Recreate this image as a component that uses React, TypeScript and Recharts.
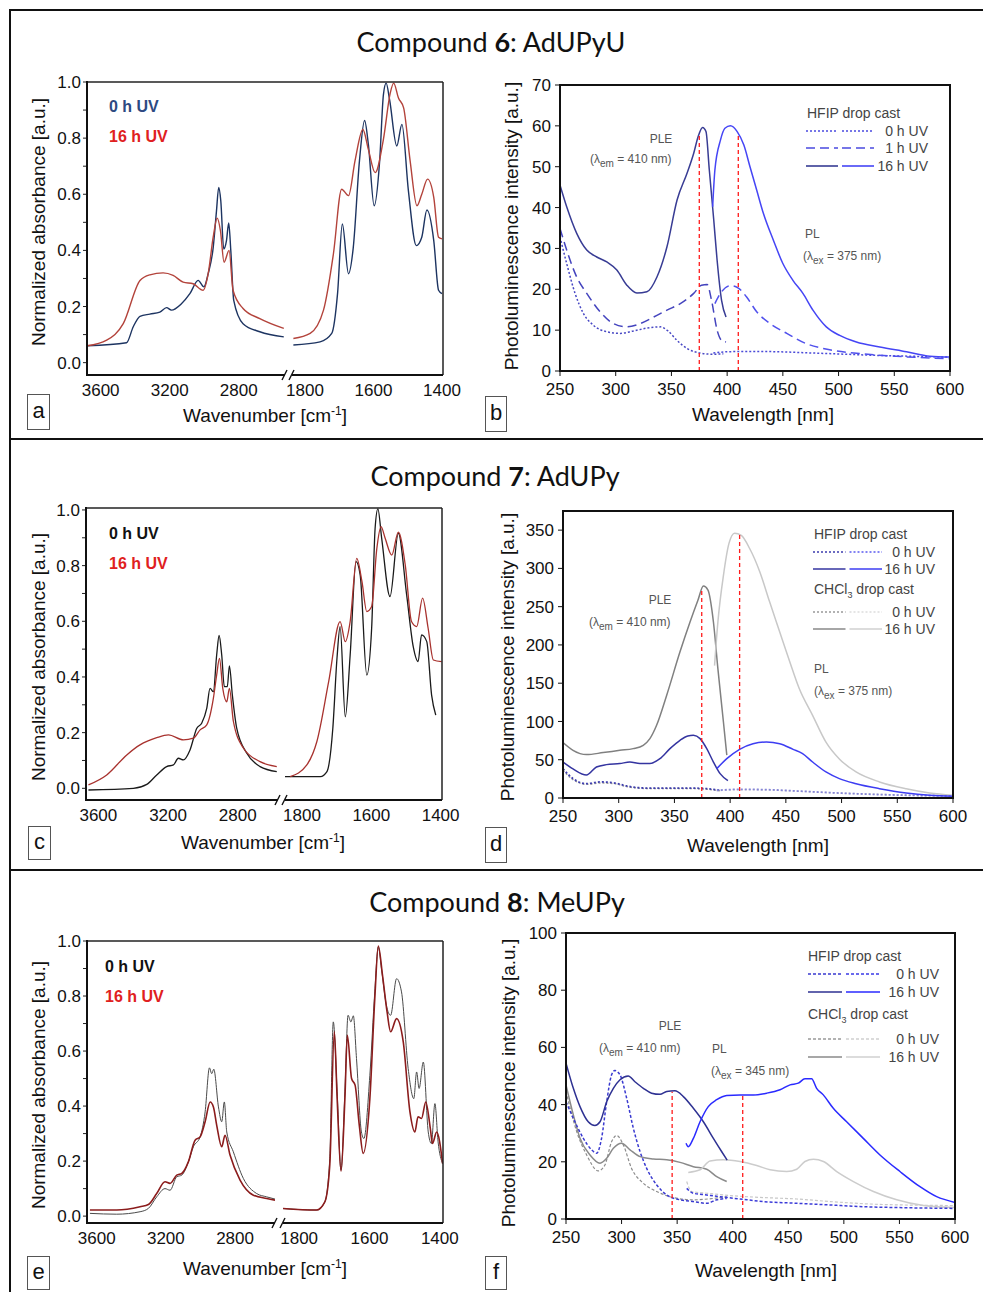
import React from 'react'
import { LineChart, Line, XAxis, YAxis, ReferenceLine } from 'recharts'

type Pt = [number, number]

/* ------------------------------------------------------------------ */
/*  Data: IR spectra (wavenumber, normalized absorbance)               */
/* ------------------------------------------------------------------ */

// compound 6 (panel a)
const A_0H_CH: Pt[] = [[3677, 0.06], [3450, 0.071], [3411, 0.128], [3372, 0.165], [3315, 0.173], [3257, 0.18], [3218, 0.196], [3190, 0.187], [3132, 0.21], [3083, 0.246], [3035, 0.293], [3002, 0.27], [2977, 0.317], [2948, 0.41], [2929, 0.54], [2916, 0.624], [2904, 0.577], [2887, 0.405], [2871, 0.435], [2858, 0.498], [2846, 0.4], [2829, 0.222], [2775, 0.139], [2678, 0.11], [2539, 0.092]]
const A_16H_CH: Pt[] = [[3677, 0.06], [3565, 0.08], [3469, 0.139], [3372, 0.293], [3315, 0.313], [3238, 0.32], [3180, 0.311], [3122, 0.287], [3064, 0.281], [3006, 0.258], [2977, 0.317], [2948, 0.447], [2925, 0.515], [2906, 0.47], [2885, 0.358], [2856, 0.4], [2833, 0.258], [2775, 0.193], [2678, 0.157], [2539, 0.122]]
const A_0H_FP: Pt[] = [[1834, 0.063], [1756, 0.074], [1722, 0.104], [1705, 0.246], [1691, 0.494], [1673, 0.317], [1659, 0.411], [1641, 0.719], [1626, 0.863], [1615, 0.778], [1598, 0.559], [1582, 0.719], [1571, 0.955], [1563, 0.996], [1553, 0.937], [1532, 0.772], [1517, 0.849], [1498, 0.612], [1475, 0.417], [1459, 0.447], [1444, 0.544], [1424, 0.435], [1410, 0.258], [1400, 0.246]]
const A_16H_FP: Pt[] = [[1834, 0.086], [1785, 0.104], [1746, 0.187], [1717, 0.388], [1693, 0.618], [1673, 0.595], [1654, 0.719], [1631, 0.831], [1615, 0.76], [1595, 0.677], [1571, 0.796], [1551, 0.961], [1541, 0.996], [1527, 0.943], [1512, 0.908], [1493, 0.719], [1473, 0.559], [1459, 0.6], [1442, 0.654], [1424, 0.589], [1410, 0.447], [1400, 0.441]]

// compound 7 (panel c)
const C_0H_CH: Pt[] = [[3657, -0.006], [3399, 0], [3322, 0.014], [3265, 0.048], [3208, 0.078], [3169, 0.084], [3141, 0.108], [3112, 0.102], [3074, 0.138], [3035, 0.216], [3007, 0.234], [2978, 0.287], [2959, 0.359], [2940, 0.347], [2921, 0.479], [2907, 0.549], [2892, 0.479], [2877, 0.365], [2860, 0.365], [2848, 0.44], [2831, 0.335], [2806, 0.216], [2748, 0.126], [2672, 0.078], [2576, 0.06]]
const C_16H_CH: Pt[] = [[3657, 0.012], [3552, 0.048], [3437, 0.12], [3361, 0.156], [3265, 0.182], [3198, 0.192], [3112, 0.174], [3055, 0.18], [3016, 0.21], [2978, 0.228], [2940, 0.323], [2921, 0.407], [2905, 0.467], [2886, 0.359], [2863, 0.311], [2848, 0.359], [2825, 0.24], [2767, 0.144], [2672, 0.096], [2576, 0.078]]
const C_0H_FP: Pt[] = [[1851, 0.042], [1747, 0.042], [1728, 0.06], [1711, 0.216], [1699, 0.467], [1690, 0.581], [1675, 0.257], [1661, 0.479], [1644, 0.814], [1632, 0.766], [1613, 0.407], [1599, 0.575], [1589, 0.934], [1581, 1.004], [1570, 0.898], [1546, 0.689], [1522, 0.916], [1498, 0.695], [1479, 0.509], [1465, 0.455], [1455, 0.551], [1440, 0.527], [1426, 0.335], [1414, 0.263]]
const C_16H_FP: Pt[] = [[1834, 0.042], [1786, 0.084], [1757, 0.168], [1723, 0.383], [1690, 0.599], [1675, 0.527], [1661, 0.599], [1642, 0.826], [1627, 0.743], [1613, 0.635], [1599, 0.653], [1584, 0.862], [1572, 0.94], [1560, 0.898], [1541, 0.838], [1522, 0.92], [1502, 0.802], [1484, 0.599], [1469, 0.581], [1452, 0.683], [1436, 0.575], [1421, 0.461], [1397, 0.455]]

// compound 8 (panel e)
const E_0H_CH: Pt[] = [[3639, 0.01], [3484, 0.007], [3349, 0.016], [3301, 0.028], [3253, 0.07], [3205, 0.1], [3176, 0.094], [3137, 0.143], [3108, 0.149], [3070, 0.197], [3041, 0.252], [3002, 0.288], [2973, 0.379], [2948, 0.539], [2935, 0.518], [2923, 0.534], [2896, 0.397], [2877, 0.343], [2862, 0.415], [2848, 0.306], [2810, 0.234], [2752, 0.137], [2675, 0.082], [2617, 0.07], [2569, 0.062]]
const E_16H_CH: Pt[] = [[3639, 0.022], [3484, 0.022], [3349, 0.034], [3301, 0.042], [3253, 0.082], [3205, 0.125], [3176, 0.119], [3137, 0.149], [3108, 0.155], [3070, 0.197], [3031, 0.276], [3002, 0.288], [2973, 0.343], [2944, 0.415], [2925, 0.397], [2906, 0.33], [2877, 0.252], [2858, 0.294], [2829, 0.222], [2771, 0.131], [2694, 0.076], [2617, 0.064], [2569, 0.058]]
const E_0H_FP: Pt[] = [[1850, 0.028], [1751, 0.022], [1727, 0.052], [1713, 0.209], [1703, 0.706], [1692, 0.452], [1681, 0.167], [1670, 0.452], [1661, 0.73], [1653, 0.706], [1646, 0.728], [1637, 0.573], [1623, 0.306], [1616, 0.282], [1599, 0.512], [1585, 0.815], [1575, 0.978], [1566, 0.9], [1552, 0.766], [1540, 0.73], [1523, 0.863], [1509, 0.815], [1490, 0.536], [1474, 0.427], [1466, 0.524], [1459, 0.464], [1447, 0.56], [1433, 0.306], [1424, 0.264], [1414, 0.409], [1405, 0.27], [1392, 0.191]]
const E_16H_FP: Pt[] = [[1850, 0.028], [1751, 0.022], [1727, 0.052], [1713, 0.185], [1700, 0.67], [1692, 0.427], [1681, 0.163], [1670, 0.427], [1663, 0.657], [1651, 0.5], [1641, 0.476], [1629, 0.33], [1618, 0.228], [1599, 0.427], [1585, 0.79], [1575, 0.982], [1563, 0.875], [1550, 0.742], [1540, 0.67], [1523, 0.718], [1504, 0.633], [1485, 0.379], [1471, 0.306], [1462, 0.361], [1452, 0.355], [1440, 0.415], [1427, 0.318], [1421, 0.264], [1409, 0.306], [1392, 0.191]]

/* ------------------------------------------------------------------ */
/*  Data: PL / PLE spectra (wavelength nm, intensity a.u.)             */
/* ------------------------------------------------------------------ */

// panel b
const B_0H_PLE: Pt[] = [[250, 32.8], [256, 26.3], [263.5, 19], [271, 14.1], [280, 11.2], [292, 9.6], [304, 9.2], [316, 9.8], [328, 10.5], [340, 10.8], [347, 9.8], [355, 7.5], [364, 5.5], [375.6, 4.4], [387.6, 4.1], [396.6, 4.2]]
const B_0H_PL: Pt[] = [[387.6, 4.4], [399.5, 4.7], [417.5, 4.8], [447, 4.7], [477, 4.4], [507, 4.1], [537, 3.8], [567, 3.6], [600, 3.4]]
const B_1H_PLE: Pt[] = [[250, 34.9], [256, 29.6], [265, 23], [274, 19], [286, 14.5], [298, 11.6], [310, 10.8], [322, 11.6], [334, 13.2], [346, 14.9], [358, 16.5], [370, 19], [377, 21], [382, 21.2], [386, 17.3], [391, 10], [395, 7.5], [399, 7.1]]
const B_1H_PL: Pt[] = [[389, 16.5], [395, 19.4], [403, 20.9], [410, 20.3], [417.5, 18.1], [426.5, 14.5], [438.5, 11.6], [453.5, 9.2], [471, 6.7], [492, 5.2], [522, 4.2], [552, 3.6], [600, 3.0]]
const B_16H_PLE: Pt[] = [[250, 45.5], [256, 40.2], [265, 33.7], [274, 29.6], [283, 27.9], [292, 26.7], [301, 24.7], [310, 21], [319, 19.1], [328, 19.4], [337, 23], [346, 30.4], [355, 41.8], [364, 48.4], [370, 53.3], [374, 57.4], [378, 59.6], [381, 58.6], [384, 49.2], [388, 36.9], [391, 27.1], [395, 17.3], [399, 13.2]]
const B_16H_PL: Pt[] = [[387, 40.2], [389, 49.2], [394, 56.5], [398, 59.4], [403, 60], [409, 58.6], [415, 55.3], [420.5, 50], [426.5, 44.3], [432.5, 38.6], [441.5, 32], [450, 26.3], [459, 22.2], [468, 19], [477, 14.9], [489, 10.8], [501, 8.7], [516, 7.1], [537, 5.9], [561, 4.7], [582, 3.6], [600, 3.4]]

// panel d
const D_HF0_PLE: Pt[] = [[250, 38], [259, 25.3], [271, 18.7], [283, 21], [295, 20], [307, 15.7], [325, 13], [343, 13], [361, 13], [379, 12.2], [391, 10]]
const D_HF0_PL: Pt[] = [[388, 10], [408.5, 11.3], [432.5, 10.9], [459, 9.2], [489, 7], [519, 5.2], [549, 3.9], [600, 2.6]]
const D_HF16_PLE: Pt[] = [[250, 47], [259, 38], [271, 30], [280, 40.5], [289, 43.6], [301, 45], [310, 47], [319, 45], [328, 45], [337, 51.4], [346, 64.5], [355, 75.4], [362, 81], [367, 82], [373, 77.6], [379, 64.5], [385, 47], [391, 31.8], [398, 22.7]]
const D_HF16_PL: Pt[] = [[388, 38.4], [397, 51.4], [408.5, 63.6], [420.5, 71], [432.5, 73.2], [444.5, 71], [456.5, 63.6], [465, 58], [474, 47], [486, 34], [498, 25.3], [513, 18.7], [534, 12.2], [558, 6.5], [579, 3.5], [600, 2.2]]
const D_CH0_PLE: Pt[] = [[250, 36], [259, 24], [271, 18], [283, 19.5], [295, 19], [307, 15], [325, 12.5], [343, 12.5], [361, 12.5], [379, 11.5], [391, 9.5]]
const D_CH0_PL: Pt[] = [[388, 9.5], [408.5, 10.8], [432.5, 10.5], [459, 9], [489, 7], [519, 5.5], [549, 4], [600, 3]]
const D_CH16_PLE: Pt[] = [[250, 72.4], [259, 62.3], [271, 56.7], [286, 59.3], [301, 62.3], [313, 64.5], [322, 68.9], [328, 77.6], [334, 95], [343, 134], [355, 191], [364, 230], [371, 258], [376, 277], [380, 272], [385, 230], [389, 169], [394, 99], [397, 56]]
const D_CH16_PL: Pt[] = [[386, 173], [389, 230], [394, 291], [399, 333], [404, 346], [410, 343], [417.5, 326], [426.5, 296], [435.5, 256], [444.5, 217], [453.5, 178], [462, 143], [474, 108], [486, 73], [498, 51], [513, 34], [534, 21], [558, 12], [579, 6.5], [600, 3.5]]

// panel f
const F_HF0_PLE: Pt[] = [[250, 41], [256.6, 35.2], [265.6, 28.2], [273, 24.2], [277.6, 23], [282, 28.2], [286.6, 41], [291, 50.4], [294, 51.9], [298.6, 50.4], [304.6, 42.2], [310.6, 31.7], [316.6, 23.6], [322.6, 17.7], [331.6, 11.9], [340.6, 8.4], [352.6, 6.7], [364.6, 6.1], [376.6, 5.5], [385.6, 6.7], [394.6, 7.2]]
const F_HF0_PL: Pt[] = [[358.6, 10.7], [364.6, 9], [376.6, 8.4], [388.6, 7.8], [406.6, 7], [427.6, 6.1], [457.6, 5.5], [487.6, 4.9], [517.6, 4.3], [547.6, 4], [600, 3.7]]
const F_HF16_PLE: Pt[] = [[250, 54.5], [256.6, 45.7], [262.6, 39.3], [270, 34], [276, 32.7], [280.6, 34], [286.6, 41], [292.6, 45.7], [298.6, 48.7], [306, 50], [312, 48], [319.6, 45.7], [327, 44], [334.6, 43.6], [340.6, 44.6], [348, 44.8], [355.6, 42.8], [364.6, 38.7], [373.6, 34], [382.6, 28.2], [390, 23.6], [395, 20.6]]
const F_HF16_PL: Pt[] = [[358, 26.5], [360, 25.3], [364.6, 28.2], [370.6, 34], [378, 39.3], [385.6, 41.7], [394.6, 43.2], [406.6, 43.4], [418.6, 43.4], [430.6, 44], [442.6, 45.2], [451.6, 46.9], [459, 47.5], [465, 49], [471, 49], [475.5, 45.7], [481.5, 43.4], [490.5, 38.7], [502.5, 34], [517.5, 28.2], [532.5, 22.4], [550.5, 16.6], [568.5, 11.3], [583.5, 7.8], [600, 5.8]]
const F_CH0_PLE: Pt[] = [[250, 44.6], [259.6, 30.6], [268.6, 22.4], [279, 16.8], [285, 18.9], [291, 27], [295.6, 29.2], [301.6, 25.9], [309, 17.7], [319.6, 12.5], [331.6, 9.6], [346.6, 7.5], [364.6, 6.7], [382.6, 7.2], [394.6, 7.8]]
const F_CH0_PL: Pt[] = [[358.6, 13.1], [363, 9.6], [376.6, 9], [397.6, 8.2], [427.6, 7.5], [457.6, 7], [487.6, 6.1], [532.6, 5.1], [600, 4.7]]
const F_CH16_PLE: Pt[] = [[250, 46.9], [256.6, 36.4], [262.6, 28.2], [271.6, 22.4], [280.6, 19.5], [286.6, 21.2], [292.6, 24.7], [300, 26.5], [307.6, 24.2], [316.6, 21.8], [328.6, 21], [340.6, 20.7], [352.6, 19.8], [364.6, 18.3], [376.6, 17.4], [385.6, 14.8], [394.6, 13.1]]
const F_CH16_PL: Pt[] = [[360, 16.3], [370.6, 17.2], [379.6, 20.3], [391.6, 20.7], [406.6, 20.1], [421.6, 18.7], [433.6, 17.2], [448.6, 16.6], [457.6, 17.4], [465, 20.1], [472.6, 20.9], [481.6, 20.1], [493.6, 16.6], [508.6, 13.1], [526.6, 9.6], [547.6, 6.7], [571.6, 4.7], [600, 4]]

// excitation / emission wavelengths marked with red lines: [x, top]
const B_MARKS: Pt[] = [[375, 58], [410, 58]]
const D_MARKS: Pt[] = [[374.5, 273], [408.5, 344]]
const F_MARKS: Pt[] = [[345.5, 44.5], [409, 44]]

/* ------------------------------------------------------------------ */
/*  Ticks                                                              */
/* ------------------------------------------------------------------ */

const IR_CH_TICKS = [3600, 3200, 2800]
const IR_FP_TICKS = [1800, 1600, 1400]
const ABS_TICKS = [0, 0.1, 0.2, 0.3, 0.4, 0.5, 0.6, 0.7, 0.8, 0.9, 1.0]
const WL_TICKS = [250, 300, 350, 400, 450, 500, 550, 600]
const WL_MINOR = [275, 300, 325, 350, 375, 400, 425, 450, 475, 500, 525, 550, 575]
const B_TICKS = [0, 10, 20, 30, 40, 50, 60, 70]
const B_MINOR = [5, 10, 15, 20, 25, 30, 35, 40, 45, 50, 55, 60, 65]
const D_TICKS = [0, 50, 100, 150, 200, 250, 300, 350]
const D_MINOR = [25, 50, 75, 100, 125, 150, 175, 200, 225, 250, 275, 300, 325, 350]
const F_TICKS = [0, 20, 40, 60, 80, 100]
const F_MINOR = [10, 20, 30, 40, 50, 60, 70, 80, 90]

/* ------------------------------------------------------------------ */
/*  Helpers                                                            */
/* ------------------------------------------------------------------ */

const FONT = '"Liberation Sans", Arial, sans-serif'
const TICK = { fontSize: 17, fill: '#111', fontFamily: FONT }
const pts = (a: Pt[]) => a.map(([x, y]) => ({ x, y }))
const absLabel = (v: number) => (Math.round(v * 10) % 2 === 0 ? v.toFixed(1) : '')

function Txt({ x, y, align = 'left', size = 12, color = '#555', bold = false, font = FONT, rotate = false, children }: {
  x: number; y: number; align?: 'left' | 'center' | 'right'; size?: number; color?: string
  bold?: boolean; font?: string; rotate?: boolean; children: React.ReactNode
}) {
  const tx = align === 'center' || rotate ? '-50%' : align === 'right' ? '-100%' : '0'
  return (
    <div
      style={{
        position: 'absolute', left: x, top: y, whiteSpace: 'nowrap', lineHeight: 1,
        transform: `translate(${tx}, -50%)${rotate ? ' rotate(-90deg)' : ''}`,
        fontSize: size, color, fontWeight: bold ? 700 : 400, fontFamily: font,
      }}
    >
      {children}
    </div>
  )
}

/* ------------------------------------------------------------------ */
/*  IR panel with broken wavenumber axis                               */
/* ------------------------------------------------------------------ */

interface IrProps {
  plotLeft: number; plotRight: number; plotTop: number; plotBottom: number
  breakL: number; breakR: number
  chDomain: [number, number]; fpDomain: [number, number]; yDomain: [number, number]
  ch0: Pt[]; ch16: Pt[]; fp0: Pt[]; fp16: Pt[]
  c0: string; c16: string; w0: number; w16: number
}

const IR_YW = 70
const IR_TOP = 10
const IR_XH = 30

function IrPanel(p: IrProps) {
  const h = IR_TOP + (p.plotBottom - p.plotTop) + IR_XH
  const xCommon = {
    type: 'number' as const, dataKey: 'x', reversed: true, allowDataOverflow: true, interval: 0,
    height: IR_XH, axisLine: false, tickLine: false, tickSize: 4, tickMargin: 5, tick: TICK,
  }
  const line = (d: Pt[], c: string, w: number, k: string) => (
    <Line key={k} data={pts(d)} dataKey="y" type="monotone" stroke={c} strokeWidth={w} dot={false} isAnimationActive={false} />
  )
  return (
    <>
      <div style={{ position: 'absolute', left: p.plotLeft - IR_YW, top: p.plotTop - IR_TOP }}>
        <LineChart width={p.breakL - p.plotLeft + IR_YW} height={h} margin={{ top: IR_TOP, right: 0, bottom: 0, left: 0 }}>
          <XAxis {...xCommon} domain={p.chDomain} ticks={IR_CH_TICKS} />
          <YAxis
            type="number" domain={p.yDomain} allowDataOverflow ticks={ABS_TICKS} interval={0} width={IR_YW}
            axisLine={false} tickSize={4} tickMargin={2} tickLine={{ stroke: '#222' }} tick={TICK} tickFormatter={absLabel}
          />
          {line(p.ch0, p.c0, p.w0, 'a')}
          {line(p.ch16, p.c16, p.w16, 'b')}
        </LineChart>
      </div>
      <div style={{ position: 'absolute', left: p.breakR - 25, top: p.plotTop - IR_TOP }}>
        <LineChart width={p.plotRight - p.breakR + 50} height={h} margin={{ top: IR_TOP, right: 25, bottom: 0, left: 25 }}>
          <XAxis {...xCommon} domain={p.fpDomain} ticks={IR_FP_TICKS} />
          <YAxis hide type="number" domain={p.yDomain} allowDataOverflow />
          {line(p.fp0, p.c0, p.w0, 'a')}
          {line(p.fp16, p.c16, p.w16, 'b')}
        </LineChart>
      </div>
    </>
  )
}

function IrFrame({ plotLeft: l, plotRight: r, plotTop: t, plotBottom: b, breakL, breakR }: IrProps) {
  return (
    <g>
      <line x1={l} y1={t} x2={r} y2={t} stroke="#222" strokeWidth={1.5} />
      <line x1={r} y1={t} x2={r} y2={b} stroke="#222" strokeWidth={1.5} />
      <line x1={l} y1={t - 1} x2={l} y2={b + 1} stroke="#111" strokeWidth={2} />
      <line x1={l} y1={b} x2={breakL} y2={b} stroke="#111" strokeWidth={2} />
      <line x1={breakR} y1={b} x2={r} y2={b} stroke="#111" strokeWidth={2} />
      <line x1={breakL - 3} y1={b + 5} x2={breakL + 2} y2={b - 5} stroke="#111" strokeWidth={1.4} />
      <line x1={breakR - 3} y1={b + 5} x2={breakR + 2} y2={b - 5} stroke="#111" strokeWidth={1.4} />
    </g>
  )
}

/* ------------------------------------------------------------------ */
/*  PL / PLE panel                                                     */
/* ------------------------------------------------------------------ */

interface Series { d: Pt[]; c: string; dash?: string; w?: number }

interface PlProps {
  plotLeft: number; plotRight: number; plotTop: number; plotBottom: number
  yDomain: [number, number]; yTicks: number[]; yMinor: number[]
  series: Series[]; marks: Pt[]
}

const PL_YW = 60
const PL_TOP = 10
const PL_RM = 25
const PL_XH = 35

function PlPanel(p: PlProps) {
  const w = p.plotRight - p.plotLeft + PL_YW + PL_RM
  const h = PL_TOP + (p.plotBottom - p.plotTop) + PL_XH
  return (
    <div style={{ position: 'absolute', left: p.plotLeft - PL_YW, top: p.plotTop - PL_TOP }}>
      <LineChart width={w} height={h} margin={{ top: PL_TOP, right: PL_RM, bottom: 0, left: 0 }}>
        <XAxis
          type="number" dataKey="x" domain={[250, 600]} allowDataOverflow ticks={WL_TICKS} interval={0}
          height={PL_XH} axisLine={false} tickSize={5} tickMargin={7} tickLine={{ stroke: '#111' }} tick={TICK}
        />
        <XAxis
          xAxisId="top" orientation="top" type="number" dataKey="x" domain={[250, 600]} allowDataOverflow
          ticks={WL_MINOR} interval={0} height={0} axisLine={false} mirror tickSize={4} tickLine={{ stroke: '#111' }} tick={false}
        />
        <YAxis
          type="number" domain={p.yDomain} allowDataOverflow ticks={p.yTicks} interval={0} width={PL_YW}
          axisLine={false} tickSize={5} tickMargin={4} tickLine={{ stroke: '#111' }} tick={TICK}
        />
        <YAxis
          yAxisId="right" orientation="right" type="number" domain={p.yDomain} allowDataOverflow
          ticks={p.yMinor} interval={0} width={0} axisLine={false} tickSize={4} tickLine={{ stroke: '#111' }} tick={false}
        />
        {p.series.map((s, i) => (
          <Line
            key={i} data={pts(s.d)} dataKey="y" type="monotone" stroke={s.c} strokeWidth={s.w ?? 1.5}
            strokeDasharray={s.dash} dot={false} isAnimationActive={false}
          />
        ))}
        {p.marks.map(([x, top], i) => (
          <ReferenceLine
            key={`m${i}`} segment={[{ x, y: 0 }, { x, y: top }]} stroke="#ff1a1a" strokeWidth={1.3} strokeDasharray="4 3"
          />
        ))}
      </LineChart>
    </div>
  )
}

/* ------------------------------------------------------------------ */
/*  Panel configs                                                      */
/* ------------------------------------------------------------------ */

const PANEL_A: IrProps = {
  plotLeft: 87, plotRight: 443, plotTop: 82, plotBottom: 375, breakL: 285, breakR: 292,
  chDomain: [2532, 3679], fpDomain: [1397, 1838], yDomain: [-0.044, 1.0],
  ch0: A_0H_CH, ch16: A_16H_CH, fp0: A_0H_FP, fp16: A_16H_FP, c0: '#1d3461', c16: '#b3433b', w0: 1.4, w16: 1.4,
}
const PANEL_C: IrProps = {
  plotLeft: 86, plotRight: 442, plotTop: 508, plotBottom: 800, breakL: 278, breakR: 285,
  chDomain: [2569, 3671], fpDomain: [1396, 1849], yDomain: [-0.042, 1.007],
  ch0: C_0H_CH, ch16: C_16H_CH, fp0: C_0H_FP, fp16: C_16H_FP, c0: '#1a1a1a', c16: '#a8322e', w0: 1.3, w16: 1.3,
}
const PANEL_E: IrProps = {
  plotLeft: 87, plotRight: 443, plotTop: 941, plotBottom: 1223, breakL: 275, breakR: 283,
  chDomain: [2569, 3656], fpDomain: [1391, 1846], yDomain: [-0.025, 1.0],
  ch0: E_0H_CH, ch16: E_16H_CH, fp0: E_0H_FP, fp16: E_16H_FP, c0: '#4a4a4a', c16: '#8b1c1c', w0: 1, w16: 1.6,
}

const PANEL_B: PlProps = {
  plotLeft: 560, plotRight: 950, plotTop: 85, plotBottom: 371, yDomain: [0, 70], yTicks: B_TICKS, yMinor: B_MINOR,
  marks: B_MARKS,
  series: [
    { d: B_0H_PLE, c: '#4848c4', dash: '2 2' },
    { d: B_0H_PL, c: '#4a4ad8', dash: '2 2' },
    { d: B_1H_PLE, c: '#4444be', dash: '9 5' },
    { d: B_1H_PL, c: '#5050ec', dash: '9 5' },
    { d: B_16H_PLE, c: '#383c94' },
    { d: B_16H_PL, c: '#4545f5' },
  ],
}
const PANEL_D: PlProps = {
  plotLeft: 563, plotRight: 953, plotTop: 511, plotBottom: 798, yDomain: [0, 375], yTicks: D_TICKS, yMinor: D_MINOR,
  marks: D_MARKS,
  series: [
    { d: D_CH0_PLE, c: '#9a9a9a', dash: '2 2' },
    { d: D_CH0_PL, c: '#cfcfcf', dash: '2 2' },
    { d: D_CH16_PLE, c: '#808080' },
    { d: D_CH16_PL, c: '#c8c8c8' },
    { d: D_HF0_PLE, c: '#3d3dae', dash: '2 2', w: 1.8 },
    { d: D_HF0_PL, c: '#8585d8', dash: '2 2', w: 1.8 },
    { d: D_HF16_PLE, c: '#3434a0' },
    { d: D_HF16_PL, c: '#3d3df2' },
  ],
}
const PANEL_F: PlProps = {
  plotLeft: 566, plotRight: 955, plotTop: 933, plotBottom: 1219, yDomain: [0, 100], yTicks: F_TICKS, yMinor: F_MINOR,
  marks: F_MARKS,
  series: [
    { d: F_CH0_PLE, c: '#8c8c8c', dash: '3 2', w: 1.2 },
    { d: F_CH0_PL, c: '#c8c8c8', dash: '3 2', w: 1.2 },
    { d: F_CH16_PLE, c: '#8a8a8a' },
    { d: F_CH16_PL, c: '#cccccc' },
    { d: F_HF0_PLE, c: '#3a3ad0', dash: '3 2' },
    { d: F_HF0_PL, c: '#3a3ad8', dash: '3 2' },
    { d: F_HF16_PLE, c: '#2e3192' },
    { d: F_HF16_PL, c: '#2a2aff' },
  ],
}

/* ------------------------------------------------------------------ */
/*  Legend samples (split two-tone lines)                              */
/* ------------------------------------------------------------------ */

function Sample({ x1, x2, y, c1, c2, dash }: { x1: number; x2: number; y: number; c1: string; c2: string; dash?: string }) {
  const mid = (x1 + x2) / 2
  return (
    <g>
      <line x1={x1} y1={y} x2={mid - 2} y2={y} stroke={c1} strokeWidth={1.6} strokeDasharray={dash} />
      <line x1={mid + 2} y1={y} x2={x2} y2={y} stroke={c2} strokeWidth={1.6} strokeDasharray={dash} />
    </g>
  )
}

const PlFrame = ({ plotLeft: l, plotRight: r, plotTop: t, plotBottom: b }: PlProps) => (
  <rect x={l} y={t} width={r - l} height={b - t} fill="none" stroke="#111" strokeWidth={2} />
)

const Box = ({ x, y, w, h, label }: { x: number; y: number; w: number; h: number; label: string }) => (
  <div
    style={{
      position: 'absolute', left: x, top: y, width: w, height: h, border: '1px solid #555', boxSizing: 'border-box',
      fontFamily: FONT, fontSize: 22, lineHeight: `${h - 4}px`, textAlign: 'center', color: '#111',
    }}
  >
    {label}
  </div>
)

const TITLE_FONT = 'Lato, "Open Sans", sans-serif'
const AX = 19

/* ------------------------------------------------------------------ */
/*  App                                                                */
/* ------------------------------------------------------------------ */

export default function App() {
  return (
    <div style={{ position: 'absolute', left: 0, top: 0, width: 983, height: 1292, background: '#fff', overflow: 'hidden' }}>
      <IrPanel {...PANEL_A} />
      <IrPanel {...PANEL_C} />
      <IrPanel {...PANEL_E} />
      <PlPanel {...PANEL_B} />
      <PlPanel {...PANEL_D} />
      <PlPanel {...PANEL_F} />

      <svg width={983} height={1292} style={{ position: 'absolute', left: 0, top: 0, pointerEvents: 'none' }}>
        {/* outer border and separators */}
        <line x1={10} y1={10} x2={983} y2={10} stroke="#111" strokeWidth={2} />
        <line x1={10} y1={9} x2={10} y2={1292} stroke="#111" strokeWidth={2} />
        <line x1={10} y1={439} x2={983} y2={439} stroke="#111" strokeWidth={2} />
        <line x1={10} y1={870} x2={983} y2={870} stroke="#111" strokeWidth={2} />

        <IrFrame {...PANEL_A} />
        <IrFrame {...PANEL_C} />
        <IrFrame {...PANEL_E} />
        <PlFrame {...PANEL_B} />
        <PlFrame {...PANEL_D} />
        <PlFrame {...PANEL_F} />

        {/* legend b */}
        <Sample x1={806} x2={874} y={131} c1="#4a4ae0" c2="#4a4ae0" dash="2 2" />
        <Sample x1={806} x2={874} y={148} c1="#4a4ae0" c2="#4a4ae0" dash="9 5" />
        <Sample x1={806} x2={874} y={166} c1="#383c94" c2="#4545f5" />
        {/* legend d */}
        <Sample x1={813} x2={882} y={552} c1="#3d3dae" c2="#5a5af0" dash="2 2" />
        <Sample x1={813} x2={882} y={569} c1="#3434a0" c2="#3d3df2" />
        <Sample x1={813} x2={882} y={612} c1="#999" c2="#ddd" dash="2 2" />
        <Sample x1={813} x2={882} y={629} c1="#888" c2="#d0d0d0" />
        {/* legend f */}
        <Sample x1={808} x2={880} y={974} c1="#3a3ad0" c2="#3a3ae8" dash="3 2" />
        <Sample x1={808} x2={880} y={992} c1="#2e3192" c2="#2a2aff" />
        <Sample x1={808} x2={880} y={1039} c1="#999" c2="#d0d0d0" dash="3 2" />
        <Sample x1={808} x2={880} y={1057} c1="#8a8a8a" c2="#d0d0d0" />
      </svg>

      {/* titles */}
      <Txt x={491} y={41} align="center" size={27} color="#111" font={TITLE_FONT}>Compound <b>6</b>: AdUPyU</Txt>
      <Txt x={495} y={475} align="center" size={27} color="#111" font={TITLE_FONT}>Compound <b>7</b>: AdUPy</Txt>
      <Txt x={497} y={901} align="center" size={27} color="#111" font={TITLE_FONT}>Compound <b>8</b>: MeUPy</Txt>

      {/* IR axis titles and legends */}
      <Txt x={38} y={222} rotate size={AX} color="#111">Normalized absorbance [a.u.]</Txt>
      <Txt x={265} y={415} align="center" size={AX} color="#111">Wavenumber [cm<sup style={{ fontSize: 12 }}>-1</sup>]</Txt>
      <Txt x={109} y={107} size={16} bold color="#2d4a82">0 h UV</Txt>
      <Txt x={109} y={137} size={16} bold color="#e02020">16 h UV</Txt>

      <Txt x={38} y={657} rotate size={AX} color="#111">Normalized absorbance [a.u.]</Txt>
      <Txt x={263} y={842} align="center" size={AX} color="#111">Wavenumber [cm<sup style={{ fontSize: 12 }}>-1</sup>]</Txt>
      <Txt x={109} y={534} size={16} bold color="#111">0 h UV</Txt>
      <Txt x={109} y={564} size={16} bold color="#e02020">16 h UV</Txt>

      <Txt x={38} y={1085} rotate size={AX} color="#111">Normalized absorbance [a.u.]</Txt>
      <Txt x={265} y={1268} align="center" size={AX} color="#111">Wavenumber [cm<sup style={{ fontSize: 12 }}>-1</sup>]</Txt>
      <Txt x={105} y={967} size={16} bold color="#111">0 h UV</Txt>
      <Txt x={105} y={997} size={16} bold color="#e02020">16 h UV</Txt>

      {/* PL axis titles */}
      <Txt x={511} y={226} rotate size={AX} color="#111">Photoluminescence intensity [a.u.]</Txt>
      <Txt x={763} y={414} align="center" size={AX} color="#111">Wavelength [nm]</Txt>
      <Txt x={507} y={657} rotate size={AX} color="#111">Photoluminescence intensity [a.u.]</Txt>
      <Txt x={758} y={845} align="center" size={AX} color="#111">Wavelength [nm]</Txt>
      <Txt x={508} y={1083} rotate size={AX} color="#111">Photoluminescence intensity [a.u.]</Txt>
      <Txt x={766} y={1270} align="center" size={AX} color="#111">Wavelength [nm]</Txt>

      {/* panel b annotations and legend */}
      <Txt x={661} y={139} align="center">PLE</Txt>
      <Txt x={590} y={161}>(λ<sub>em</sub> = 410 nm)</Txt>
      <Txt x={805} y={234}>PL</Txt>
      <Txt x={803} y={258}>(λ<sub>ex</sub> = 375 nm)</Txt>
      <Txt x={807} y={113} size={14} color="#444">HFIP drop cast</Txt>
      <Txt x={928} y={131} align="right" size={14} color="#444">0 h UV</Txt>
      <Txt x={928} y={148} align="right" size={14} color="#444">1 h UV</Txt>
      <Txt x={928} y={166} align="right" size={14} color="#444">16 h UV</Txt>

      {/* panel d annotations and legend */}
      <Txt x={660} y={600} align="center">PLE</Txt>
      <Txt x={589} y={624}>(λ<sub>em</sub> = 410 nm)</Txt>
      <Txt x={814} y={669}>PL</Txt>
      <Txt x={814} y={693}>(λ<sub>ex</sub> = 375 nm)</Txt>
      <Txt x={814} y={534} size={14} color="#444">HFIP drop cast</Txt>
      <Txt x={935} y={552} align="right" size={14} color="#444">0 h UV</Txt>
      <Txt x={935} y={569} align="right" size={14} color="#444">16 h UV</Txt>
      <Txt x={814} y={591} size={14} color="#444">CHCl<sub style={{ fontSize: 9 }}>3</sub> drop cast</Txt>
      <Txt x={935} y={612} align="right" size={14} color="#444">0 h UV</Txt>
      <Txt x={935} y={629} align="right" size={14} color="#444">16 h UV</Txt>

      {/* panel f annotations and legend */}
      <Txt x={670} y={1026} align="center">PLE</Txt>
      <Txt x={599} y={1050}>(λ<sub>em</sub> = 410 nm)</Txt>
      <Txt x={712} y={1049}>PL</Txt>
      <Txt x={711} y={1073}>(λ<sub>ex</sub> = 345 nm)</Txt>
      <Txt x={808} y={956} size={14} color="#444">HFIP drop cast</Txt>
      <Txt x={939} y={974} align="right" size={14} color="#444">0 h UV</Txt>
      <Txt x={939} y={992} align="right" size={14} color="#444">16 h UV</Txt>
      <Txt x={808} y={1016} size={14} color="#444">CHCl<sub style={{ fontSize: 9 }}>3</sub> drop cast</Txt>
      <Txt x={939} y={1039} align="right" size={14} color="#444">0 h UV</Txt>
      <Txt x={939} y={1057} align="right" size={14} color="#444">16 h UV</Txt>

      {/* panel letters */}
      <Box x={27} y={394} w={23} h={36} label="a" />
      <Box x={485} y={396} w={22} h={36} label="b" />
      <Box x={28} y={826} w={23} h={34} label="c" />
      <Box x={485} y={827} w={22} h={36} label="d" />
      <Box x={27} y={1256} w={23} h={34} label="e" />
      <Box x={485} y={1256} w={22} h={34} label="f" />
    </div>
  )
}
